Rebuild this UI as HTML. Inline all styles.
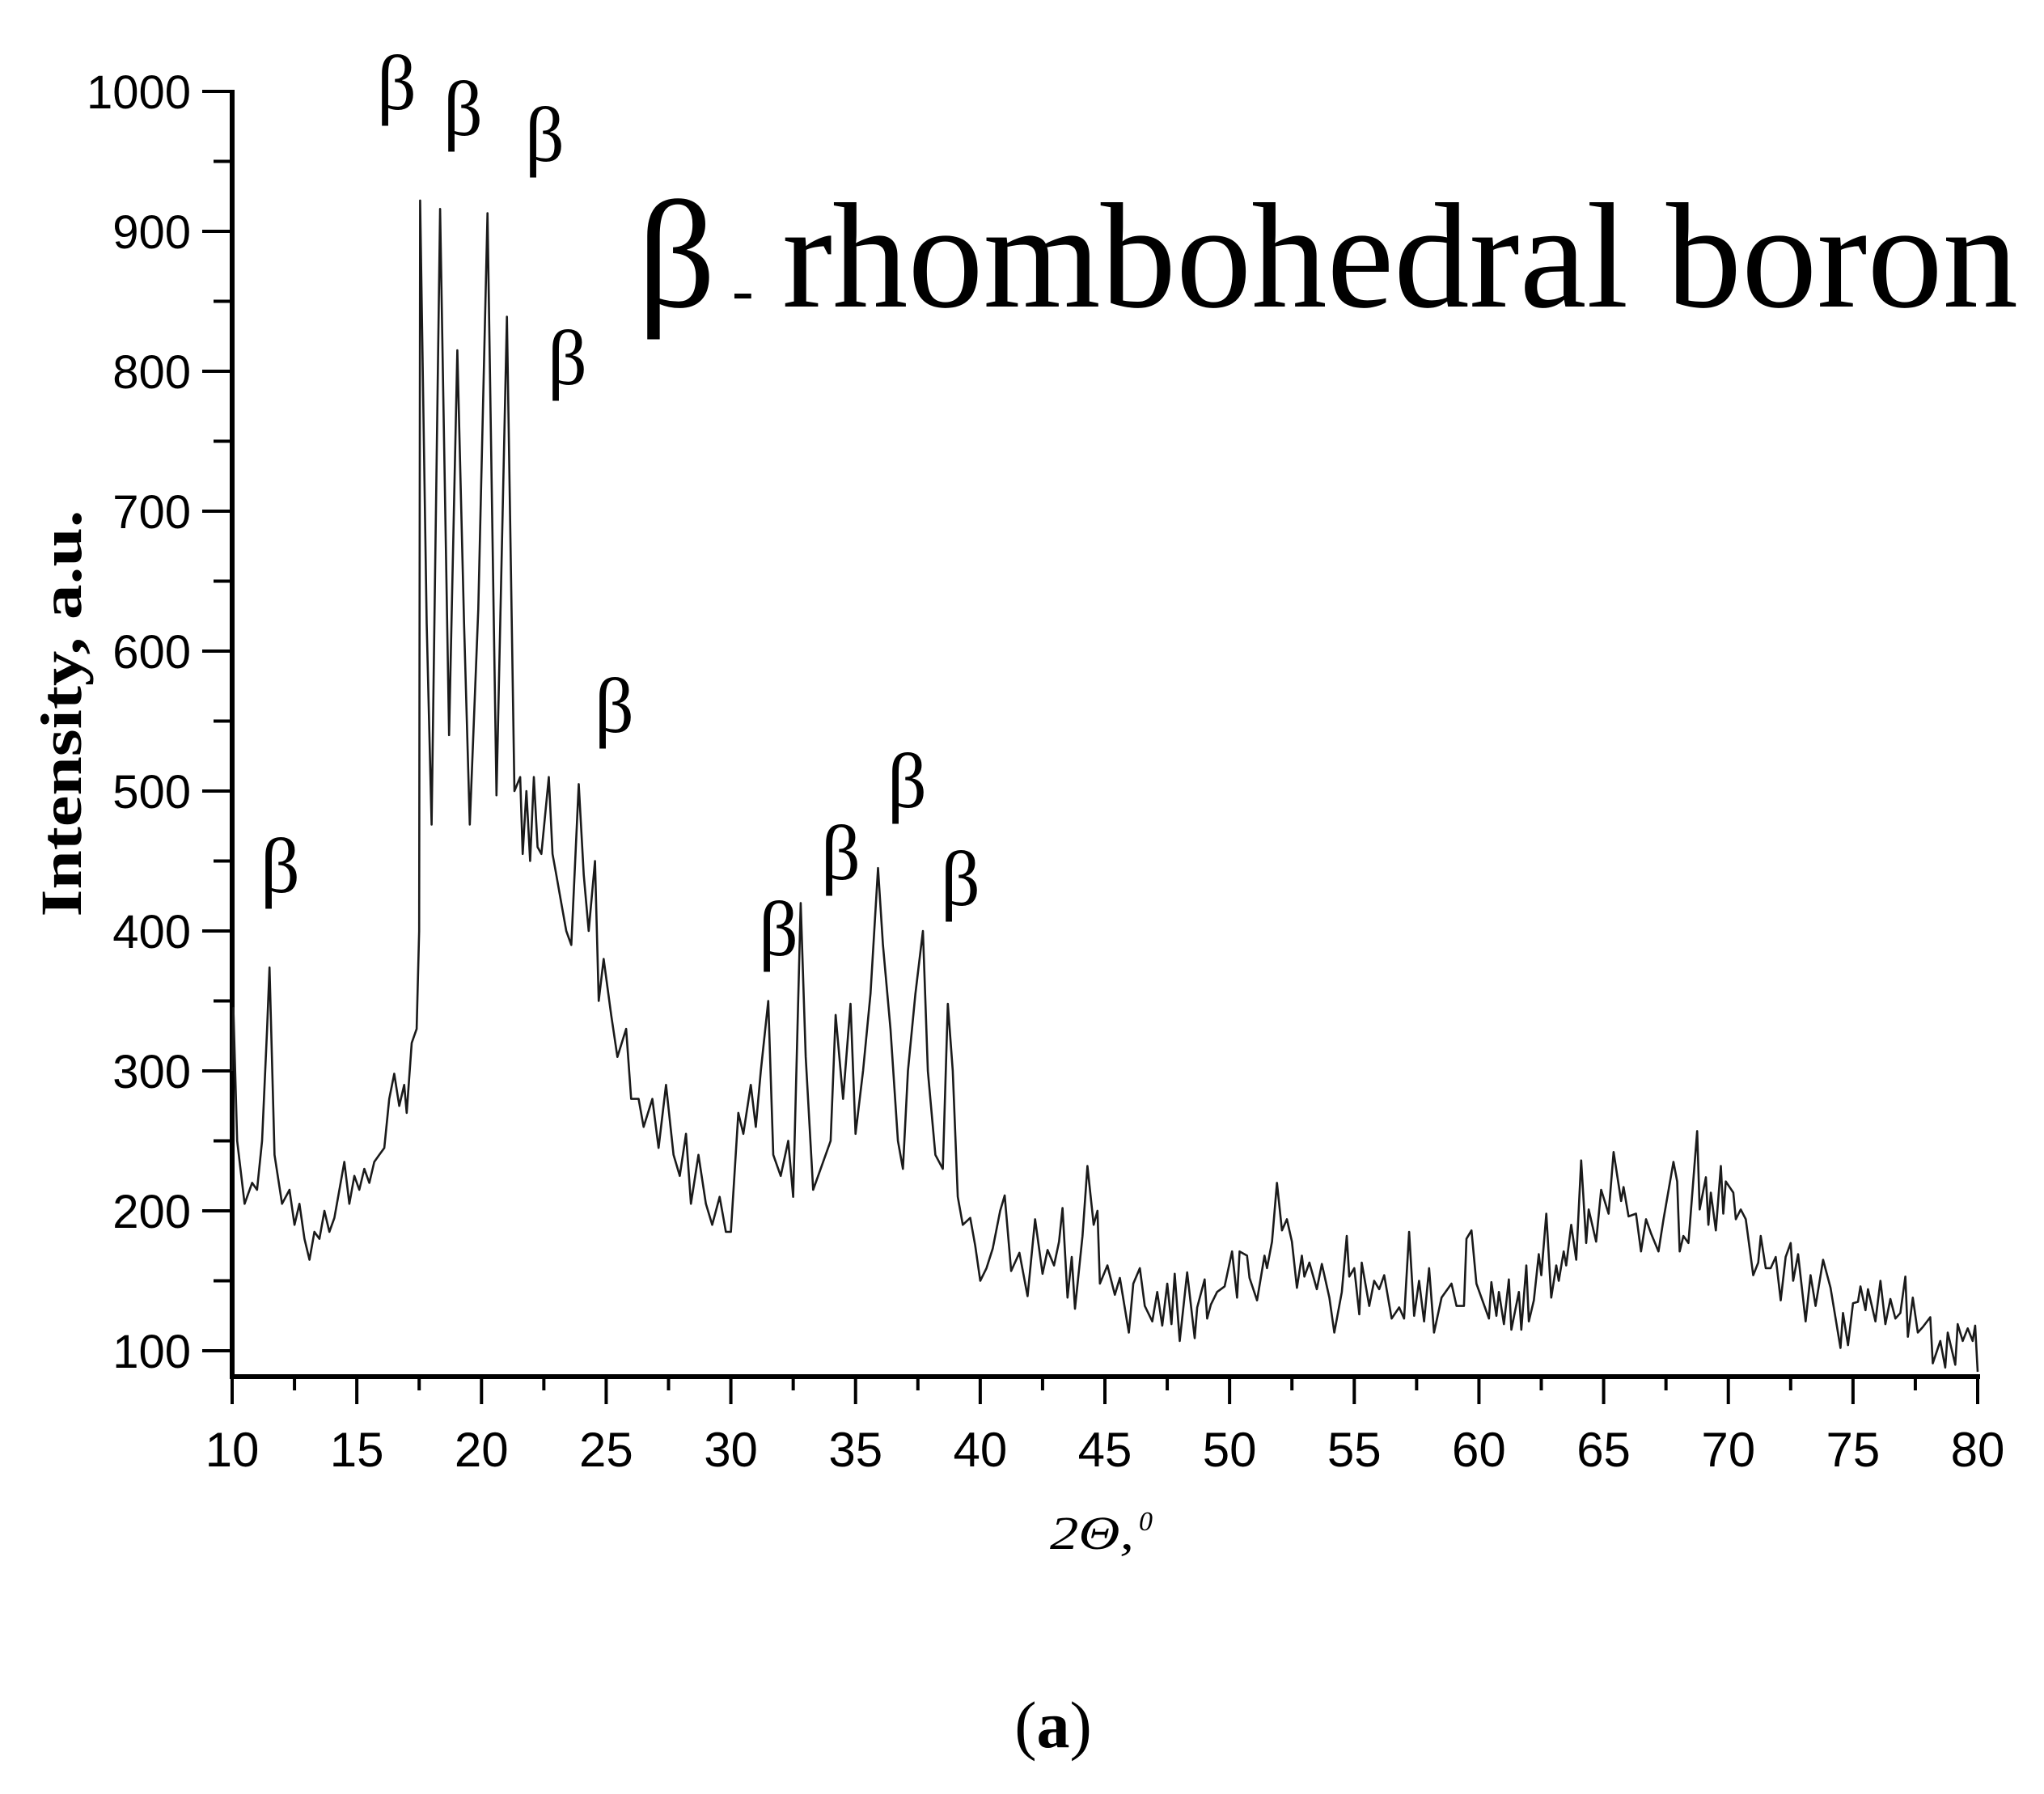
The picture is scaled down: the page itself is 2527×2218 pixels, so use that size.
<!DOCTYPE html>
<html><head><meta charset="utf-8"><style>
html,body{margin:0;padding:0;background:#fff;}
svg{display:block;}
</style></head><body>
<svg id="chart" xmlns="http://www.w3.org/2000/svg" width="2527" height="2218" viewBox="0 0 2527 2218">
<rect width="2527" height="2218" fill="#fff"/>
<g id="axes"></g>
<path id="trace" fill="none" stroke="#1a1a1a" stroke-width="2.6" stroke-linejoin="round"/>
<g id="labels" font-family="'Liberation Serif', serif" font-size="96" fill="#000">
  <text x="466" y="135">β</text>
  <text x="548" y="167">β</text>
  <text x="649" y="199">β</text>
  <text x="677" y="475">β</text>
  <text x="735" y="905">β</text>
  <text x="322" y="1103">β</text>
  <text x="938" y="1181">β</text>
  <text x="1015" y="1087">β</text>
  <text x="1097" y="998">β</text>
  <text x="1163" y="1119">β</text>
</g>
<text font-family="'Liberation Serif', serif" fill="#000">
  <tspan x="788" y="379" font-size="190">β</tspan>
</text>
<text x="905" y="385" font-family="'Liberation Serif', serif" font-size="80" fill="#000">-</text>
<text x="967" y="379" font-family="'Liberation Serif', serif" font-size="186" textLength="1528" lengthAdjust="spacingAndGlyphs" fill="#000">rhombohedral boron</text>
<text transform="translate(100,882) rotate(-90)" text-anchor="middle" font-family="'Liberation Serif', serif" font-weight="bold" font-size="72" textLength="503" lengthAdjust="spacingAndGlyphs" fill="#000">Intensity, a.u.</text>
<text x="1298" y="1915" font-family="'Liberation Serif', serif" font-style="italic" font-size="58" textLength="104" lengthAdjust="spacingAndGlyphs" fill="#000">2Θ,</text>
<text x="1408" y="1892" font-family="'Liberation Serif', serif" font-style="italic" font-size="34" fill="#000">0</text>
<text x="1302" y="2160" text-anchor="middle" font-family="'Liberation Serif', serif" font-size="82" fill="#000">(<tspan font-weight="bold">a</tspan>)</text>
</svg>
<script>
const angles = [10.0,10.05,10.2,10.5,10.8,11.0,11.2,11.4,11.5,11.7,12.0,12.3,12.5,12.7,12.9,13.1,13.3,13.5,13.7,13.9,14.1,14.3,14.5,14.7,14.9,15.1,15.3,15.5,15.7,15.9,16.1,16.3,16.5,16.7,16.9,17.0,17.2,17.4,17.5,17.54,17.8,18.0,18.34,18.7,19.03,19.3,19.53,19.87,20.24,20.6,21.02,21.32,21.55,21.65,21.8,21.95,22.1,22.25,22.4,22.7,22.85,23.0,23.2,23.4,23.6,23.9,24.1,24.3,24.55,24.7,24.9,25.2,25.45,25.8,26.0,26.3,26.5,26.85,27.1,27.4,27.7,27.95,28.2,28.4,28.7,29.0,29.25,29.55,29.8,30.0,30.3,30.5,30.8,31.0,31.2,31.5,31.7,32.0,32.3,32.5,32.8,33.0,33.3,33.6,34.0,34.2,34.5,34.8,35.0,35.3,35.6,35.9,36.1,36.4,36.7,36.9,37.1,37.4,37.7,37.9,38.2,38.5,38.7,38.9,39.1,39.3,39.6,39.8,40.0,40.25,40.5,40.8,40.98,41.24,41.57,41.9,42.2,42.5,42.7,42.96,43.16,43.3,43.5,43.67,43.8,44.1,44.3,44.55,44.7,44.8,45.1,45.4,45.6,45.96,46.14,46.4,46.6,46.9,47.1,47.3,47.5,47.67,47.8,48.0,48.3,48.6,48.7,49.0,49.1,49.25,49.5,49.8,50.1,50.3,50.4,50.7,50.8,51.1,51.4,51.5,51.7,51.9,52.1,52.3,52.5,52.7,52.9,53.0,53.2,53.5,53.7,54.0,54.2,54.5,54.7,54.8,55.0,55.2,55.3,55.6,55.8,56.0,56.2,56.5,56.8,57.0,57.2,57.4,57.6,57.8,58.0,58.2,58.5,58.9,59.1,59.4,59.5,59.7,59.9,60.1,60.4,60.5,60.7,60.8,61.0,61.2,61.3,61.6,61.7,61.9,62.0,62.2,62.4,62.5,62.7,62.9,63.1,63.2,63.4,63.5,63.7,63.9,64.1,64.3,64.4,64.7,64.9,65.2,65.4,65.7,65.8,66.0,66.3,66.5,66.7,66.9,67.2,67.4,67.8,67.95,68.05,68.2,68.4,68.5,68.75,68.85,69.1,69.2,69.3,69.5,69.7,69.8,69.9,70.2,70.3,70.5,70.7,71.0,71.2,71.3,71.5,71.7,71.9,72.1,72.3,72.5,72.6,72.8,73.1,73.3,73.5,73.8,74.1,74.5,74.6,74.8,75.0,75.2,75.3,75.5,75.6,75.9,76.1,76.3,76.5,76.7,76.9,77.1,77.2,77.4,77.6,77.8,78.1,78.2,78.5,78.7,78.8,79.1,79.2,79.4,79.6,79.8,79.9,80.0];
const intensities = [300,345,250,205,220,215,250,330,374,240,205,215,190,205,180,165,185,180,200,185,195,215,235,205,225,215,230,220,235,240,245,280,298,275,290,270,320,330,400,922,620,476,916,540,815,620,476,630,913,497,839,500,510,455,500,450,510,460,455,510,455,440,420,400,390,505,440,400,450,350,380,340,310,330,280,280,260,280,245,290,240,225,255,205,240,205,190,210,185,185,270,255,290,260,300,350,240,225,250,210,420,310,215,230,250,340,280,348,255,300,355,445,390,330,250,230,300,355,400,300,240,230,348,300,210,190,195,175,150,159,173,200,211,157,170,139,194,155,172,161,178,202,138,167,130,182,232,190,200,148,161,140,152,113,148,159,132,121,142,118,148,119,155,107,156,109,131,151,123,133,142,146,171,138,171,168,152,136,168,159,178,220,186,194,178,145,168,153,163,144,162,138,113,142,182,153,159,126,163,132,150,144,154,123,131,123,185,125,150,121,159,113,138,148,132,132,180,186,148,138,123,149,125,142,119,151,115,142,115,161,121,136,169,154,198,138,161,150,171,161,190,165,236,177,201,178,215,198,242,207,217,196,198,171,194,184,171,194,235,221,171,182,177,200,257,201,224,190,213,186,232,198,221,213,194,201,194,154,163,182,159,159,167,136,167,177,150,169,121,154,132,165,145,102,127,104,134,135,146,129,144,121,150,119,137,123,127,153,110,138,113,117,124,91,107,88,113,90,119,107,116,107,118,85];
const yTickValues = [100,200,300,400,500,600,700,800,900,1000];
const xTickValues = [10,15,20,25,30,35,40,45,50,55,60,65,70,75,80];

const X0 = 287, X1 = 2445, XMIN = 10, XMAX = 80;
const Y100 = 1670, Y1000 = 113, AXIS_BOTTOM = 1702;
function xs(v){ return X0 + (v - XMIN) * (X1 - X0) / (XMAX - XMIN); }
function ys(v){ return Y100 + (v - 100) * (Y1000 - Y100) / 900; }
const NS = 'http://www.w3.org/2000/svg';
const axes = document.getElementById('axes');
function mk(tag, attrs, parent){ const e = document.createElementNS(NS, tag); for (const k in attrs) e.setAttribute(k, attrs[k]); parent.appendChild(e); return e; }

const yAxis = mk('line', {x1:X0, y1:Y1000-2, x2:X0, y2:AXIS_BOTTOM+3, stroke:'#000','stroke-width':6}, axes);


const xAxis = mk('line', {x1:X0-3, y1:AXIS_BOTTOM, x2:X1+3, y2:AXIS_BOTTOM, stroke:'#000','stroke-width':6}, axes);



yTickValues.forEach(v => {
  const y = ys(v);
  const t = mk('line', {x1:X0-37, y1:y, x2:X0, y2:y, stroke:'#000','stroke-width':4}, axes);
  
  
  const lbl = mk('text', {x:236, y:y+21, 'text-anchor':'end', 'font-family':"'Liberation Sans', sans-serif", 'font-size':58, fill:'#000'}, axes);
  lbl.textContent = v;
  
  
  if (v < 1000) {
    const ym = ys(v + 50);
    const m = mk('line', {x1:X0-23, y1:ym, x2:X0, y2:ym, stroke:'#000','stroke-width':4}, axes);
    
    
  }
});

xTickValues.forEach(v => {
  const x = xs(v);
  const t = mk('line', {x1:x, y1:AXIS_BOTTOM, x2:x, y2:AXIS_BOTTOM+34, stroke:'#000','stroke-width':4}, axes);
  
  
  const lbl = mk('text', {x:x, y:1813, 'text-anchor':'middle', 'font-family':"'Liberation Sans', sans-serif", 'font-size':60, fill:'#000'}, axes);
  lbl.textContent = v;
  
  
  if (v < 80) {
    const xm = xs(v + 2.5);
    const m = mk('line', {x1:xm, y1:AXIS_BOTTOM, x2:xm, y2:AXIS_BOTTOM+17, stroke:'#000','stroke-width':4}, axes);
    
    
  }
});

let d = '';
angles.forEach((a, i) => { d += (i ? 'L' : 'M') + xs(a).toFixed(1) + ' ' + ys(intensities[i]).toFixed(1) + ' '; });
document.getElementById('trace').setAttribute('d', d);
</script>
</body></html>
